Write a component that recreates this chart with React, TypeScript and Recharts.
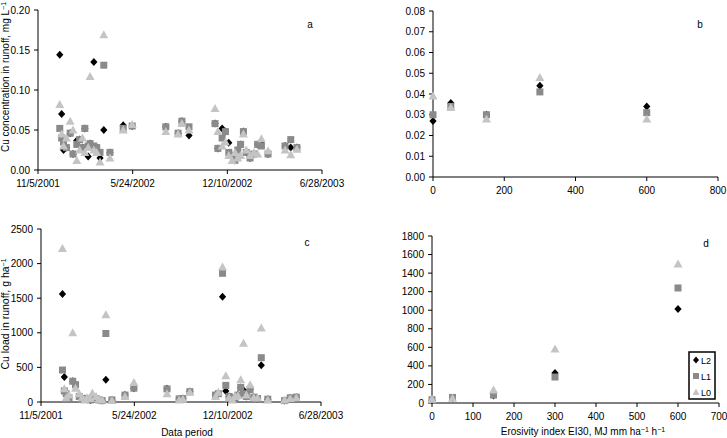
import React from 'react';
import { ScatterChart, Scatter, XAxis, YAxis } from 'recharts';

// ---- Runoff event dates (Excel serial day numbers) ----
const eventDates = [
  37246, 37250, 37254, 37260, 37268, 37274, 37282, 37288, 37294, 37299,
  37306, 37310, 37318, 37324, 37331, 37339, 37352, 37380, 37399, 37470,
  37496, 37504, 37519, 37574, 37580, 37589, 37596, 37603, 37610, 37616,
  37622, 37628, 37634, 37640, 37648, 37656, 37664, 37672, 37686, 37722,
  37734, 37747,
];

// ---- Panel a: Cu concentration in runoff (mg/L) ----
const concL2 = [
  0.144, 0.070, 0.025, 0.028, 0.046, 0.020, 0.037, 0.038, 0.028, 0.052,
  0.017, 0.033, 0.135, 0.028, 0.015, 0.050, 0.022, 0.056, 0.055, 0.054,
  0.046, 0.061, 0.043, 0.058, 0.027, 0.052, 0.048, 0.034, 0.018, 0.012,
  0.025, 0.032, 0.048, 0.022, 0.015, 0.020, 0.032, 0.033, 0.020, 0.030,
  0.028, 0.028,
];
const concL1 = [
  0.052, 0.040, 0.035, 0.028, 0.046, 0.020, 0.032, 0.038, 0.028, 0.052,
  0.030, 0.033, 0.030, 0.028, 0.022, 0.131, 0.022, 0.052, 0.055, 0.054,
  0.046, 0.061, 0.054, 0.058, 0.027, 0.040, 0.048, 0.022, 0.018, 0.012,
  0.025, 0.032, 0.048, 0.022, 0.015, 0.020, 0.032, 0.030, 0.020, 0.030,
  0.038, 0.028,
];
const concL0 = [
  0.082, 0.045, 0.030, 0.040, 0.061, 0.050, 0.012, 0.025, 0.040, 0.022,
  0.028, 0.117, 0.025, 0.022, 0.010, 0.169, 0.015, 0.050, 0.057, 0.048,
  0.045, 0.058, 0.050, 0.077, 0.048, 0.030, 0.035, 0.018, 0.012, 0.022,
  0.015, 0.018, 0.045, 0.025, 0.018, 0.022, 0.020, 0.039, 0.024, 0.025,
  0.019, 0.026,
];

// ---- Panel c: Cu load in runoff (g/ha) ----
const loadL2 = [
  1560, 360, 120, 60, 300, 250, 80, 40, 50, 40,
  30, 90, 50, 30, 20, 320, 30, 100, 200, 190,
  45, 50, 150, 100, 120, 1520, 160, 80, 50, 60,
  100, 210, 170, 80, 180, 70, 50, 530, 40, 20,
  60, 70,
];
const loadL1 = [
  462, 160, 120, 60, 300, 250, 80, 40, 50, 40,
  30, 60, 50, 30, 20, 990, 30, 100, 200, 190,
  45, 50, 150, 100, 120, 1860, 240, 80, 50, 60,
  100, 210, 120, 80, 180, 70, 50, 640, 40, 20,
  60, 70,
];
const loadL0 = [
  2220, 190, 60, 100, 1000, 200, 120, 60, 30, 60,
  50, 130, 80, 40, 30, 1260, 20, 80, 280, 120,
  30, 40, 140, 80, 140, 1950, 380, 60, 30, 80,
  90, 320, 850, 100, 250, 60, 60, 1070, 30, 30,
  50, 60,
];

// ---- Panels b & d: by erosivity index EI30 ----
const eiLevels = [0, 50, 150, 300, 600];
const eiConcL2 = [0.027, 0.0357, 0.030, 0.044, 0.034];
const eiConcL1 = [0.030, 0.034, 0.030, 0.041, 0.031];
const eiConcL0 = [0.039, 0.0335, 0.028, 0.048, 0.028];
const eiLoadL2 = [30, 55, 80, 323, 1013];
const eiLoadL1 = [35, 60, 86, 280, 1240];
const eiLoadL0 = [40, 50, 140, 582, 1498];

// ---- Tick labels ----
const dateTicks = [37200, 37400, 37600, 37800];
const dateLabels = ['11/5/2001', '5/24/2002', '12/10/2002', '6/28/2003'];
const concTicksA = [0, 0.05, 0.1, 0.15, 0.2];
const concTicksB = [0, 0.01, 0.02, 0.03, 0.04, 0.05, 0.06, 0.07, 0.08];
const eiTicksB = [0, 200, 400, 600, 800];
const loadTicksC = [0, 500, 1000, 1500, 2000, 2500];
const loadTicksD = [0, 200, 400, 600, 800, 1000, 1200, 1400, 1600, 1800];
const eiTicksD = [0, 100, 200, 300, 400, 500, 600, 700];

const FONT = '"Liberation Sans", Arial, sans-serif';
const C_L2 = '#000000';
const C_L1 = '#8a8a8a';
const C_L0 = '#c4c4c4';

const zip = (xs: number[], ys: number[]) => xs.map((x, i) => ({ x, y: ys[i] }));

const Diamond = (p: any) => {
  const { cx, cy } = p;
  if (cx == null || cy == null) return <g />;
  return (
    <polygon
      points={`${cx},${cy - 4} ${cx + 3.6},${cy} ${cx},${cy + 4} ${cx - 3.6},${cy}`}
      fill={C_L2}
    />
  );
};
const Square = (p: any) => {
  const { cx, cy } = p;
  if (cx == null || cy == null) return <g />;
  return <rect x={cx - 3.5} y={cy - 3.5} width={7} height={7} fill={C_L1} />;
};
const Triangle = (p: any) => {
  const { cx, cy } = p;
  if (cx == null || cy == null) return <g />;
  return (
    <polygon
      points={`${cx},${cy - 4.5} ${cx + 4.5},${cy + 3.5} ${cx - 4.5},${cy + 3.5}`}
      fill={C_L0}
    />
  );
};

const tickStyle = { fontSize: 10, fill: '#000', fontFamily: FONT };
const axisProps = {
  axisLine: { stroke: '#000', strokeWidth: 1 },
  tickLine: { stroke: '#000', strokeWidth: 1 },
  tickSize: 4,
  tick: tickStyle,
  interval: 0 as const,
};

const fmtDate = (v: number) => {
  const i = dateTicks.indexOf(v);
  return i >= 0 ? dateLabels[i] : '';
};

function Panel(props: {
  left: number; top: number; width: number; height: number;
  margin: { top: number; right: number; bottom: number; left: number };
  yWidth: number; xHeight: number;
  xDomain: [number, number]; xTicks: number[]; xFmt: (v: number) => string;
  yDomain: [number, number]; yTicks: number[]; yFmt: (v: number) => string;
  s2: { x: number; y: number }[]; s1: { x: number; y: number }[]; s0: { x: number; y: number }[];
}) {
  return (
    <div style={{ position: 'absolute', left: props.left, top: props.top }}>
      <ScatterChart width={props.width} height={props.height} margin={props.margin}>
        <XAxis
          type="number"
          dataKey="x"
          domain={props.xDomain}
          ticks={props.xTicks}
          tickFormatter={props.xFmt}
          height={props.xHeight}
          tickMargin={6}
          {...axisProps}
        />
        <YAxis
          type="number"
          dataKey="y"
          domain={props.yDomain}
          ticks={props.yTicks}
          tickFormatter={props.yFmt}
          width={props.yWidth}
          tickMargin={4}
          {...axisProps}
        />
        <Scatter name="L2" data={props.s2} shape={Diamond} isAnimationActive={false} />
        <Scatter name="L1" data={props.s1} shape={Square} isAnimationActive={false} />
        <Scatter name="L0" data={props.s0} shape={Triangle} isAnimationActive={false} />
      </ScatterChart>
    </div>
  );
}

export default function App() {
  const f2 = (v: number) => v.toFixed(2);
  const f0 = (v: number) => String(v);
  return (
    <div style={{ position: 'absolute', left: 0, top: 0, width: 727, height: 438, background: '#fff', fontFamily: FONT }}>
      {/* a */}
      <Panel
        left={0} top={0} width={360} height={200}
        margin={{ top: 10, right: 38, bottom: 0, left: 0 }}
        yWidth={38} xHeight={30}
        xDomain={[37200, 37800]} xTicks={dateTicks} xFmt={fmtDate}
        yDomain={[0, 0.2]} yTicks={concTicksA} yFmt={f2}
        s2={zip(eventDates, concL2)} s1={zip(eventDates, concL1)} s0={zip(eventDates, concL0)}
      />
      {/* b */}
      <Panel
        left={360} top={0} width={367} height={200}
        margin={{ top: 11, right: 9, bottom: 0, left: 0 }}
        yWidth={73} xHeight={23}
        xDomain={[0, 800]} xTicks={eiTicksB} xFmt={f0}
        yDomain={[0, 0.08]} yTicks={concTicksB} yFmt={f2}
        s2={zip(eiLevels, eiConcL2)} s1={zip(eiLevels, eiConcL1)} s0={zip(eiLevels, eiConcL0)}
      />
      {/* c */}
      <Panel
        left={0} top={210} width={360} height={228}
        margin={{ top: 19, right: 39, bottom: 0, left: 0 }}
        yWidth={41} xHeight={36}
        xDomain={[37200, 37800]} xTicks={dateTicks} xFmt={fmtDate}
        yDomain={[0, 2500]} yTicks={loadTicksC} yFmt={f0}
        s2={zip(eventDates, loadL2)} s1={zip(eventDates, loadL1)} s0={zip(eventDates, loadL0)}
      />
      {/* d */}
      <Panel
        left={360} top={210} width={367} height={228}
        margin={{ top: 26, right: 8, bottom: 0, left: 0 }}
        yWidth={72} xHeight={35}
        xDomain={[0, 700]} xTicks={eiTicksD} xFmt={f0}
        yDomain={[0, 1800]} yTicks={loadTicksD} yFmt={f0}
        s2={zip(eiLevels, eiLoadL2)} s1={zip(eiLevels, eiLoadL1)} s0={zip(eiLevels, eiLoadL0)}
      />
      <svg
        width={727}
        height={438}
        style={{ position: 'absolute', left: 0, top: 0, pointerEvents: 'none' }}
        fontFamily={FONT}
        fontSize={10}
      >
        <text x={310} y={28} textAnchor="middle">a</text>
        <text x={700} y={28} textAnchor="middle">b</text>
        <text x={307} y={246} textAnchor="middle">c</text>
        <text x={706} y={247} textAnchor="middle">d</text>
        <text x={9} y={77} textAnchor="middle" transform="rotate(-90, 9, 77)">
          Cu concentration in runoff, mg L<tspan fontSize={7} dy={-3}>−1</tspan>
        </text>
        <text x={9} y={314} textAnchor="middle" transform="rotate(-90, 9, 314)" fontSize={10.5}>
          Cu load in runoff, g ha<tspan fontSize={7} dy={-3}>−1</tspan>
        </text>
        <text x={187} y={436} textAnchor="middle">Data period</text>
        <text x={583} y={435} textAnchor="middle">
          Erosivity index  EI30, MJ mm ha<tspan fontSize={7} dy={-3}>−1</tspan>
          <tspan dy={3}> h</tspan><tspan fontSize={7} dy={-3}>−1</tspan>
        </text>
        <g>
          <rect x={689} y={352} width={26} height={47} fill="#fff" stroke="#000" strokeWidth={1.5} />
          <polygon points="696,356.5 699,360 696,363.5 693,360" fill={C_L2} />
          <text x={701} y={363.5} fontSize={9}>L2</text>
          <rect x={693} y={373} width={6} height={6} fill={C_L1} />
          <text x={701} y={379.5} fontSize={9}>L1</text>
          <polygon points="696,388.5 699.5,395 692.5,395" fill={C_L0} />
          <text x={701} y={395.5} fontSize={9}>L0</text>
        </g>
      </svg>
    </div>
  );
}
